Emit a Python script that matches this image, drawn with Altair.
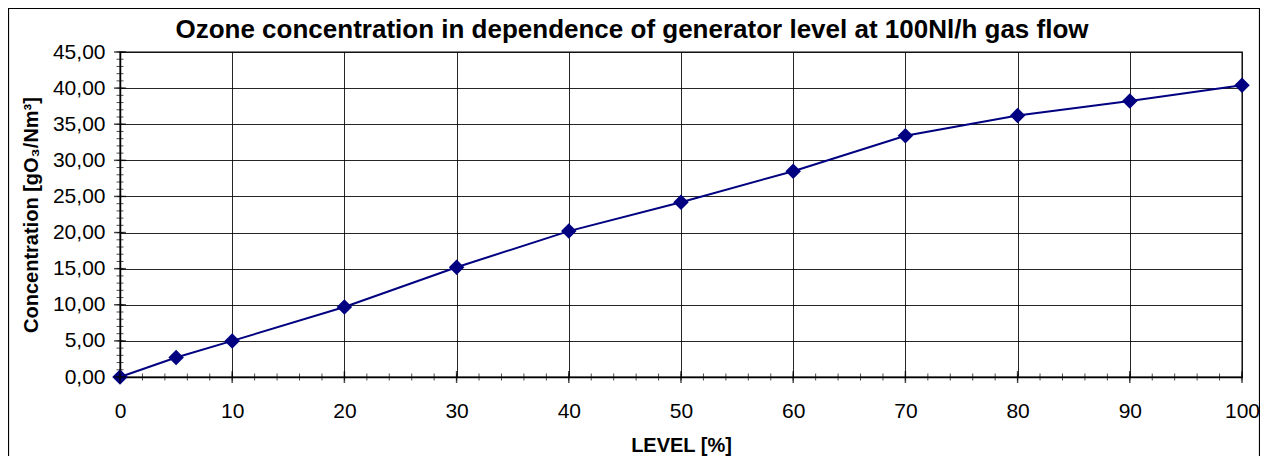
import altair as alt
import pandas as pd

level = [0, 5, 10, 20, 30, 40, 50, 60, 70, 80, 90, 100]
conc = [0.0, 2.7, 5.0, 9.7, 15.2, 20.2, 24.2, 28.5, 33.4, 36.2, 38.2, 40.4]

x_major = list(range(0, 101, 10))
x_minor = list(range(0, 101, 2))
y_major = list(range(0, 46, 5))
y_minor = list(range(0, 46, 1))

TITLE = "Ozone concentration in dependence of generator level at 100Nl/h gas flow"
FONT = "Liberation Sans"
W, H = 1122, 325

df = pd.DataFrame({"level": level, "conc": conc})

xs = alt.Scale(domain=[0, 100], nice=False, zero=False)
ys = alt.Scale(domain=[0, 45], nice=False, zero=False)

xaxis = alt.Axis(values=x_major, title="LEVEL [%]", ticks=False, labelPadding=23,
                 titlePadding=14, grid=True, labelOverlap=False, labelFlush=False)
yaxis = alt.Axis(values=y_major, title="Concentration [gO₃/Nm³]", ticks=False,
                 labelPadding=15, titlePadding=11, grid=True, labelOverlap=False,
                 labelFlush=False,
                 labelExpr="replace(format(datum.value, '.2f'), '.', ',')")

base = alt.Chart(df)

line = base.mark_line(color="#000080", strokeWidth=2).encode(
    x=alt.X("level:Q", scale=xs, axis=xaxis),
    y=alt.Y("conc:Q", scale=ys, axis=yaxis),
)

pts = base.mark_point(shape="diamond", filled=True, color="#000080", size=240, opacity=1).encode(
    x=alt.X("level:Q", scale=xs, axis=xaxis),
    y=alt.Y("conc:Q", scale=ys, axis=yaxis),
)

def ticks(vals, orient, size, thick):
    d = pd.DataFrame({"v": vals, "z": [0] * len(vals)})
    m = alt.Chart(d).mark_tick(orient=orient, size=size, thickness=thick, color="black")
    if orient == "vertical":
        return m.encode(x=alt.X("v:Q", scale=xs, axis=xaxis), y=alt.Y("z:Q", scale=ys, axis=yaxis))
    return m.encode(y=alt.Y("v:Q", scale=ys, axis=yaxis), x=alt.X("z:Q", scale=xs, axis=xaxis))

xmin = ticks(x_minor, "vertical", 7, 1)
xmaj = ticks(x_major, "vertical", 12, 1.5)
ymin = ticks(y_minor, "horizontal", 7, 1)
ymaj = ticks(y_major, "horizontal", 12, 1.5)

deco = alt.Chart(pd.DataFrame({"t": [TITLE]}))
frame = deco.mark_rect(
    fill="white", fillOpacity=0, stroke="black", strokeWidth=1.2, clip=False).encode(
    x=alt.value(-111.5), x2=alt.value(1139.5), y=alt.value(-43.5), y2=alt.value(430))

title = deco.mark_text(font=FONT, fontSize=26, fontWeight="bold", color="black",
                       align="center", baseline="alphabetic").encode(
    text="t:N", x=alt.value(512), y=alt.value(-14))

chart = alt.layer(line, pts, xmin, xmaj, ymin, ymaj, frame, title).properties(
    width=W, height=H,
    background="white",
    autosize=alt.AutoSizeParams(type="none"),
    padding={"left": 112, "top": 44, "right": 18, "bottom": 79},
).configure_view(
    stroke="#808080", strokeWidth=2
).configure_axis(
    labelFont=FONT, labelFontSize=21, labelColor="black",
    titleFont=FONT, titleFontSize=20, titleFontWeight="bold", titleColor="black",
    domainColor="black", domainWidth=1.5,
    gridColor="black", gridWidth=1, gridOpacity=0.85,
)

chart.save("out.html", embed_options={"renderer": "svg", "actions": False})
